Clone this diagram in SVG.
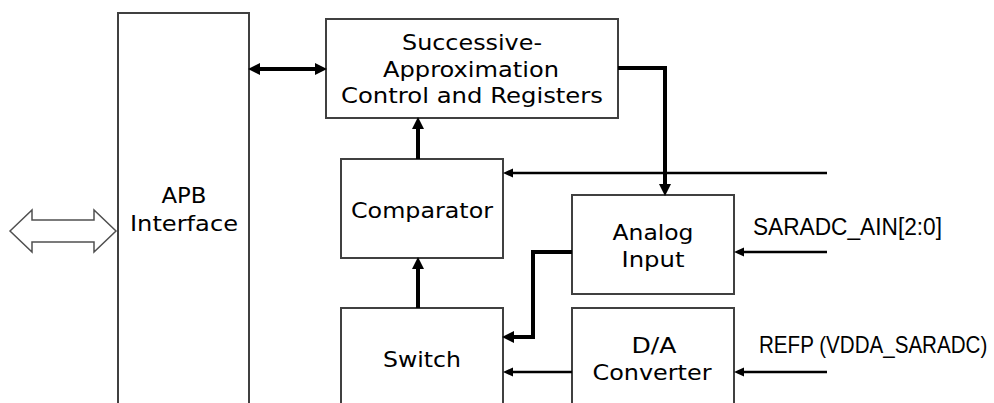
<svg xmlns="http://www.w3.org/2000/svg" width="994" height="403" viewBox="0 0 994 403">
<style>
.box{fill:#fff;stroke:#404040;stroke-width:2}
.t{font-family:"DejaVu Sans",Verdana,sans-serif;font-size:21px;fill:#000;text-anchor:middle}
.lbl{font-family:"Liberation Sans",Arial,sans-serif;font-size:23px;fill:#000}
.thick{fill:none;stroke:#000;stroke-width:4}
.thin{fill:none;stroke:#000;stroke-width:2.5}
</style>
<defs>
<marker id="ah" markerUnits="userSpaceOnUse" markerWidth="12" markerHeight="12" refX="0" refY="6" orient="auto-start-reverse"><path d="M0,0 L12,6 L0,12 z" fill="#000"/></marker>
<marker id="as" markerUnits="userSpaceOnUse" markerWidth="10" markerHeight="10" refX="0" refY="5" orient="auto-start-reverse"><path d="M0,0.5 L10,5 L0,9.5 z" fill="#000"/></marker>
</defs>
<g id="bus">
<polygon points="10,231 32,210 32,220 94,220 94,210 116,231 94,252 94,242 32,242 32,252" fill="#fff" stroke="#505050" stroke-width="1.5"/>
</g>
<g id="apb">
<rect class="box" x="118" y="13" width="131" height="400"/>
<text class="t" x="184" y="203" textLength="45" lengthAdjust="spacingAndGlyphs">APB</text>
<text class="t" x="184" y="231" textLength="108" lengthAdjust="spacingAndGlyphs">Interface</text>
</g>
<g id="sar">
<rect class="box" x="326" y="19" width="292" height="99"/>
<text class="t" x="472" y="50" textLength="140" lengthAdjust="spacingAndGlyphs">Successive-</text>
<text class="t" x="471" y="77" textLength="176" lengthAdjust="spacingAndGlyphs">Approximation</text>
<text class="t" x="472" y="103" textLength="262" lengthAdjust="spacingAndGlyphs">Control and Registers</text>
</g>
<g id="comparator">
<rect class="box" x="341" y="159" width="162" height="99"/>
<text class="t" x="422" y="218" textLength="142" lengthAdjust="spacingAndGlyphs">Comparator</text>
</g>
<g id="switch">
<rect class="box" x="341" y="308" width="162" height="105"/>
<text class="t" x="422" y="367" textLength="78" lengthAdjust="spacingAndGlyphs">Switch</text>
</g>
<g id="analog">
<rect class="box" x="572" y="195" width="162" height="99"/>
<text class="t" x="653" y="240" textLength="81" lengthAdjust="spacingAndGlyphs">Analog</text>
<text class="t" x="653" y="267" textLength="63" lengthAdjust="spacingAndGlyphs">Input</text>
</g>
<g id="dac">
<rect class="box" x="572" y="308" width="162" height="105"/>
<text class="t" x="654" y="353" textLength="45" lengthAdjust="spacingAndGlyphs">D/A</text>
<text class="t" x="652" y="380" textLength="119" lengthAdjust="spacingAndGlyphs">Converter</text>
</g>
<g id="connectors">
<path class="thick" d="M260,69 H315" marker-start="url(#ah)" marker-end="url(#ah)"/>
<path class="thick" d="M618,68 H665 V184" marker-end="url(#ah)"/>
<path class="thick" d="M418,159 V129" marker-end="url(#ah)"/>
<path class="thick" d="M418,308 V269" marker-end="url(#ah)"/>
<path class="thick" d="M572,252 H533 V337 H514" marker-end="url(#ah)"/>
<path class="thin" d="M827,173 H513" marker-end="url(#as)"/>
<path class="thin" d="M827,252 H744" marker-end="url(#as)"/>
<path class="thin" d="M827,372 H744" marker-end="url(#as)"/>
<path class="thin" d="M572,372 H513" marker-end="url(#as)"/>
</g>
<g id="labels">
<text class="lbl" x="753" y="235" textLength="189" lengthAdjust="spacingAndGlyphs">SARADC_AIN[2:0]</text>
<text class="lbl" transform="translate(759,353) scale(0.895,1)" x="0" y="0">REFP (VDDA_SARADC)</text>
</g>
</svg>
